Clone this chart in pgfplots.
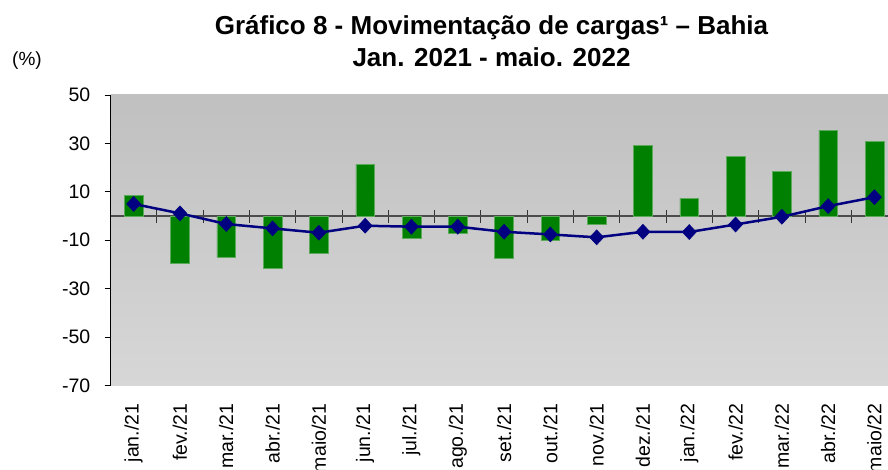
\documentclass[border=0pt]{standalone}
\usepackage{fontspec}
\setmainfont{Liberation Sans}
\usepackage{pgfplots}
\pgfplotsset{compat=1.18}
\definecolor{bargreen}{RGB}{0,128,0}
\definecolor{baredge}{RGB}{90,170,90}
\definecolor{navyline}{RGB}{0,0,128}
\definecolor{bgtop}{RGB}{192,192,192}
\definecolor{bgbot}{RGB}{215,215,215}
\pgfplotsset{
  common/.style={
    at={(110.5pt,84.5pt)}, anchor=south west,
    scale only axis, width=787.1pt, height=290.5pt,
    xmin=-0.5, xmax=16.5, ymin=-70, ymax=50,
    clip=false,
  }
}
\begin{document}
\begin{tikzpicture}[x=1pt,y=1pt]
\begin{axis}[common,
  axis background/.style={shade, top color=bgtop, bottom color=bgbot},
  axis x line=middle, axis y line=none,
  xtick={0.5,1.5,...,15.5}, xticklabels={},
  ytick=\empty,
  tick align=center, major tick length=13pt,
  x axis line style={-, draw=black!70, line width=1.2pt},
  every tick/.style={draw=black!80, line width=0.9pt},
]
\addplot[draw=none] coordinates {(0,0)};
\end{axis}
\begin{axis}[common,
  axis x line*=bottom, axis y line*=left,
  x axis line style={draw=none},
  y axis line style={-, black, line width=1pt},
  xtick={0,...,16},
  xticklabels={jan./21,fev./21,mar./21,abr./21,maio/21,jun./21,jul./21,ago./21,set./21,out./21,nov./21,dez./21,jan./22,fev./22,mar./22,abr./22,maio/22},
  xticklabel style={rotate=90, anchor=east, font=\fontsize{19.5}{22}\selectfont, inner sep=0pt},
  xticklabel shift=12pt,
  major x tick style={draw=none},
  ytick={-70,-50,...,50},
  yticklabel style={font=\fontsize{19.5}{22}\selectfont, inner sep=0pt},
  yticklabel shift=14pt,
  tick align=outside, major tick length=6pt,
  major y tick style={black, line width=0.9pt},
  /pgf/number format/assume math mode=true,
]
\addplot[ybar, bar width=18.7pt, fill=bargreen, draw=baredge, line width=0.6pt] coordinates {
(0,8.4) (1,-19.6) (2,-16.9) (3,-21.7) (4,-15.2) (5,21.2) (6,-9.1) (7,-7.2) (8,-17.6)
(9,-10.2) (10,-3.3) (11,29.2) (12,7.3) (13,24.8) (14,18.4) (15,35.4) (16,30.8)};
\addplot[navyline, line width=2.5pt, mark=diamond*, mark size=7.5pt,
  mark options={fill=navyline, draw=navyline, line width=0.5pt, xscale=1.25}] coordinates {
(0,5.0) (1,1.1) (2,-3.3) (3,-5.1) (4,-6.9) (5,-4.0) (6,-4.4) (7,-4.4) (8,-6.5)
(9,-7.6) (10,-8.8) (11,-6.5) (12,-6.6) (13,-3.5) (14,-0.3) (15,4.1) (16,7.8)};
\end{axis}
\node[anchor=base, font=\bfseries\fontsize{26}{30}\selectfont] at (491.5,435.5) {Gráfico 8 - Movimentação de cargas¹ – Bahia};
\node[anchor=base, font=\bfseries\fontsize{26}{30}\selectfont] at (491.5,403) {Jan. 2021 - maio. 2022};
\node[anchor=base west, inner sep=0pt, font=\fontsize{19}{22}\selectfont] at (12,404) {(\%)};
\pgfresetboundingbox
\useasboundingbox (0,0) rectangle (888,470);
\end{tikzpicture}
\end{document}
